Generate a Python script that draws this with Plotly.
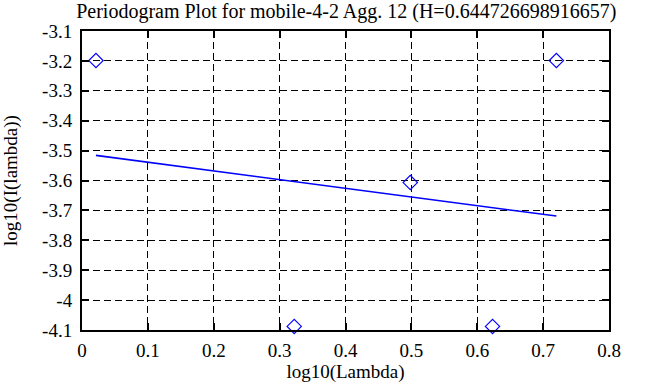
import plotly.graph_objects as go

# Data
log_lambda = [0.0212, 0.3222, 0.4983, 0.6232, 0.7201]
log_I = [-3.199, -4.088, -3.607, -4.088, -3.199]
fit_x = [0.0212, 0.7201]
fit_y = [-3.516, -3.719]

x_tickvals = [0, 0.1, 0.2, 0.3, 0.4, 0.5, 0.6, 0.7, 0.8]
x_ticktext = ["0", "0.1", "0.2", "0.3", "0.4", "0.5", "0.6", "0.7", "0.8"]
y_tickvals = [-4.1, -4.0, -3.9, -3.8, -3.7, -3.6, -3.5, -3.4, -3.3, -3.2, -3.1]
y_ticktext = ["-4.1", "-4", "-3.9", "-3.8", "-3.7", "-3.6", "-3.5", "-3.4", "-3.3", "-3.2", "-3.1"]

title_text = "Periodogram Plot for mobile-4-2 Agg. 12 (H=0.644726698916657)"

FONT = "Liberation Serif"

fig = go.Figure()
fig.add_trace(go.Scatter(
    x=log_lambda, y=log_I, mode="markers",
    marker=dict(symbol="diamond-open", size=11, color="#0000ff", line=dict(width=1.2, color="#0000ff")),
    showlegend=False, cliponaxis=False,
))
fig.add_trace(go.Scatter(
    x=fit_x, y=fit_y, mode="lines",
    line=dict(color="#0000ff", width=1.6),
    showlegend=False,
))

axis_common = dict(
    showline=True, linecolor="black", linewidth=2, mirror="ticks",
    ticks="inside", ticklen=7, tickwidth=2, tickcolor="black",
    showgrid=True, gridcolor="black", gridwidth=1, griddash="7px,4px",
    zeroline=False, automargin=False,
    tickfont=dict(family=FONT, size=19, color="black"),
)

fig.update_layout(
    width=658, height=387,
    margin=dict(l=81.5, r=48.5, t=31, b=56.5, autoexpand=False),
    paper_bgcolor="white", plot_bgcolor="white",
    font=dict(family=FONT, size=19, color="black"),
    title=dict(text=title_text, x=0.5262, xanchor="center", y=0.972, yanchor="middle",
               automargin=False,
               font=dict(family=FONT, size=20, color="black")),
    xaxis=dict(range=[0, 0.8], tickvals=x_tickvals, ticktext=x_ticktext,
               ticklabelstandoff=2,
               title=dict(text="log10(Lambda)", font=dict(family=FONT, size=19), standoff=5),
               **axis_common),
    yaxis=dict(range=[-4.1, -3.1], tickvals=y_tickvals, ticktext=y_ticktext,
               ticklabelstandoff=4,
               title=dict(text="log10(I(lambda))", font=dict(family=FONT, size=19), standoff=22),
               **axis_common),
)

fig.write_html("out.html", config={"displayModeBar": False},
               post_script="document.body.style.margin='0px';document.body.style.padding='0px';")
